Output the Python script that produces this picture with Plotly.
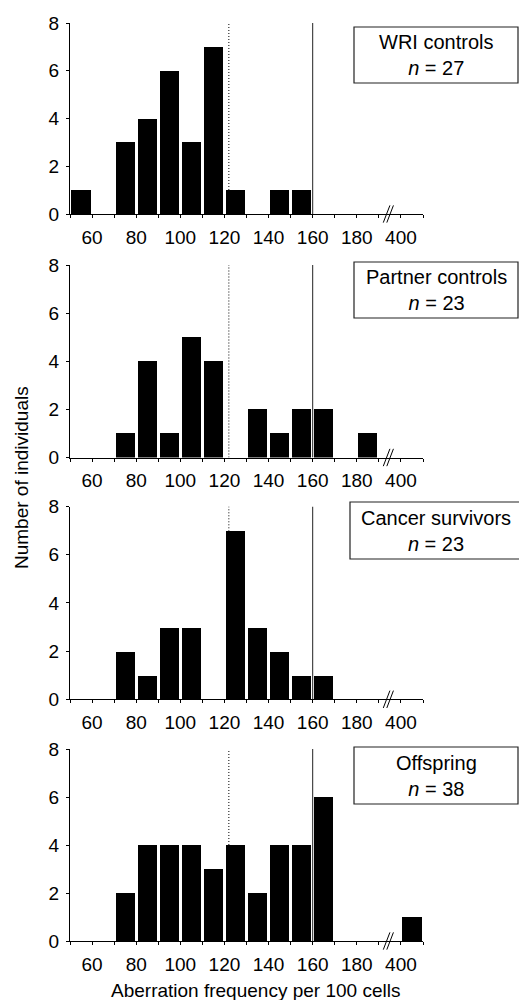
import plotly.graph_objects as go

# ---- data ----
BIN_POS = [55, 65, 75, 85, 95, 105, 115, 125, 135, 145, 155, 165, 175, 185, 205]  # 205 = "400" bin
WRI = [1, 0, 3, 4, 6, 3, 7, 1, 0, 1, 1, 0, 0, 0, 0]
PARTNER = [0, 0, 1, 4, 1, 5, 4, 0, 2, 1, 2, 2, 0, 1, 0]
CANCER = [0, 0, 2, 1, 3, 3, 0, 7, 3, 2, 1, 1, 0, 0, 0]
OFFSPRING = [0, 0, 2, 4, 4, 4, 3, 4, 2, 4, 4, 6, 0, 0, 1]
GROUPS = ["WRI controls", "Partner controls", "Cancer survivors", "Offspring"]
NS = [27, 23, 23, 38]
SERIES = [WRI, PARTNER, CANCER, OFFSPRING]
TICK_POS = [50, 60, 70, 80, 90, 100, 110, 120, 130, 140, 150, 160, 170, 180, 190, 200, 210]
TICK_TEXT = ["", "60", "", "80", "", "100", "", "120", "", "140", "", "160", "", "180", "", "400", ""]
DOTTED_X = 122
SOLID_X = 160
BREAK_X = 193.5
XMIN, XMAX = 50, 210

W, H = 519, 1000
FONT = "Liberation Sans, Arial, sans-serif"

# panel pixel geometry (top, bottom of plot area)
PANELS_PX = [(23, 214), (265, 457.5), (506.5, 699.3), (749, 941)]
BOXES_PX = [(354, 518, 27, 83), (354, 518, 262, 318), (350, 530, 502, 559), (354, 518, 747, 804)]
X0_PX, X1_PX = 70, 423

fig = go.Figure()
shapes = []
annotations = []

for i, (vals, name, n) in enumerate(zip(SERIES, GROUPS, NS)):
    k = "" if i == 0 else str(i + 1)
    xa, ya = "x" + k, "y" + k
    fig.add_trace(go.Bar(x=BIN_POS, y=vals, width=8.7, marker=dict(color="black", line=dict(width=0)),
                         xaxis=xa, yaxis=ya, showlegend=False, hoverinfo="skip"))
    top, bot = PANELS_PX[i]
    dom_y = [1 - bot / H, 1 - top / H]
    fig.layout["xaxis" + k] = dict(domain=[X0_PX / W, X1_PX / W], range=[XMIN, XMAX], anchor=ya,
                                   tickvals=TICK_POS, ticktext=TICK_TEXT, ticks="outside", ticklen=3,
                                   tickcolor="black", showline=True, linecolor="black", linewidth=1,
                                   showgrid=False, zeroline=False, automargin=False,
                                   ticklabelstandoff=3, fixedrange=True,
                                   tickfont=dict(size=19, color="black", family=FONT))
    fig.layout["yaxis" + k] = dict(domain=dom_y, range=[0, 8], anchor=xa, tickvals=[0, 2, 4, 6, 8],
                                   ticks="outside", ticklen=3, tickcolor="black", showline=True,
                                   linecolor="black", linewidth=1, showgrid=False, zeroline=False,
                                   automargin=False, ticklabelstandoff=3, fixedrange=True,
                                   tickfont=dict(size=19, color="black", family=FONT))
    # reference lines
    shapes.append(dict(type="line", xref=xa, yref=ya, x0=DOTTED_X, x1=DOTTED_X, y0=0, y1=8,
                       line=dict(color="black", width=1, dash="1px,2px"), layer="below"))
    shapes.append(dict(type="line", xref=xa, yref=ya, x0=SOLID_X, x1=SOLID_X, y0=0, y1=8,
                       line=dict(color="#222", width=1), layer="below"))
    # axis break marks
    for off in (0, 1.6):
        cx = BREAK_X + off
        shapes.append(dict(type="line", xref=xa + " domain", yref=ya + " domain",
                           x0=(cx - 1.5 - XMIN) / (XMAX - XMIN), x1=(cx + 1.5 - XMIN) / (XMAX - XMIN),
                           y0=-0.045, y1=0.045, line=dict(color="black", width=1)))
    # legend box
    bx0, bx1, by0, by1 = BOXES_PX[i]
    shapes.append(dict(type="rect", xref="paper", yref="paper", x0=bx0 / W, x1=bx1 / W,
                       y0=1 - by1 / H, y1=1 - by0 / H, line=dict(color="#222", width=1.2),
                       fillcolor="white"))
    annotations.append(dict(xref="paper", yref="paper", x=436 / W, y=1 - (by0 + by1) / 2 / H,
                            text=f"{name}<br><i>n</i> = {n}", showarrow=False, align="center",
                            xanchor="center", yanchor="middle",
                            font=dict(size=20, color="black", family=FONT)))

annotations.append(dict(xref="paper", yref="paper", x=255 / W, y=1 - 990 / H,
                        text="Aberration frequency per 100 cells", showarrow=False,
                        xanchor="center", yanchor="middle", font=dict(size=19, color="black", family=FONT)))
annotations.append(dict(xref="paper", yref="paper", x=21 / W, y=1 - 478 / H,
                        text="Number of individuals", showarrow=False, textangle=-90,
                        xanchor="center", yanchor="middle", font=dict(size=19, color="black", family=FONT)))

fig.update_layout(width=W, height=H, margin=dict(l=0, r=0, t=0, b=0, pad=0, autoexpand=False),
                  plot_bgcolor="white", paper_bgcolor="white", shapes=shapes, annotations=annotations,
                  bargap=0, font=dict(family=FONT, color="black"))
fig.write_html("out.html", config={"displayModeBar": False},
               post_script="document.body.style.margin='0';document.body.style.overflow='hidden';")
